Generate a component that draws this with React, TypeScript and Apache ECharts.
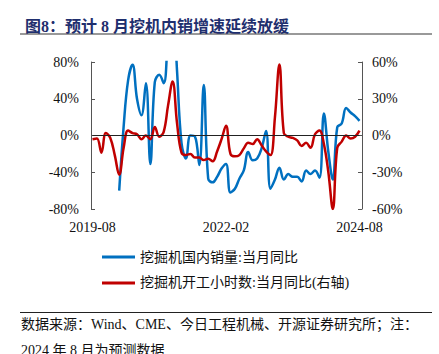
import React, { useEffect, useRef } from "react";
import * as echarts from "echarts";

const months: string[] = [];
for (let y = 2019; y <= 2024; y++) {
  for (let m = 1; m <= 12; m++) {
    if ((y === 2019 && m < 8) || (y === 2024 && m > 8)) continue;
    months.push(`${y}-${String(m).padStart(2, "0")}`);
  }
}

const seriesNames = ["挖掘机国内销量:当月同比", "挖掘机开工小时数:当月同比(右轴)"];

// 挖掘机国内销量:当月同比 (%), left axis
const domesticSalesYoY: (number | null)[] = [
  null, null, null, null, null, null,
  -60, 10, 60, 77, 40, 22, 57, -31, 58, 66, 57, 110, 150, 70,
  -8, -25, 0, -1, -32, 55, -47, -51, -45, -36, -31, -62, -58, -47,
  -38, -18, -27, -25, -14, 5, -58, -48, -35, -48, -42, -45, -45, -50,
  -38, -42, -38, -46, 24, -18, -48, 9, 13, 30, 25, 21, 16,
];

// 挖掘机开工小时数:当月同比 (%), right axis
const workingHoursYoY: number[] = [
  -3, -2.5, -14, 2, -2, -16, -32, -10, 4, 2, 1, -3, 0, -3, 7, -1, 3, 25, 44, 10,
  -14, -16, -15, -18, -18, -20, -19, -21, -13, -3, 8, -15, -17, -16, -10.5, -6,
  -7, -3, -8, -13, -16, 15, 58, 2, -1, -2, -4, -8.5, -6, -10, 1, 4, -7, -30, -60,
  -10, -5, 0, -2.5, -1, 4,
];

const leftTicks = { min: -80, max: 80, interval: 40 };
const rightTicks = { min: -60, max: 60, interval: 30 };

const titleText = "图8：预计 8 月挖机内销增速延续放缓";
const noteLine1 = "数据来源：Wind、CME、今日工程机械、开源证券研究所；注：";
const noteLine2 = "2024 年 8 月为预测数据";

const serif = "'Liberation Serif', 'Noto Sans CJK SC', serif";

export default function App() {
  const ref = useRef<HTMLDivElement>(null);
  useEffect(() => {
    if (!ref.current) return;
    const chart = echarts.init(ref.current, undefined, { renderer: "svg" });
    chart.setOption({
      animation: false,
      backgroundColor: "#fff",
      title: {
        text: titleText,
        left: 20,
        top: 13,
        textStyle: { fontSize: 16, fontWeight: "bold", color: "#1F2F6E", fontFamily: serif },
      },
      graphic: [
        { type: "line", shape: { x1: 20, y1: 34, x2: 432, y2: 34 }, style: { stroke: "#999", lineWidth: 2 } },
        { type: "line", shape: { x1: 20, y1: 312.5, x2: 432, y2: 312.5 }, style: { stroke: "#222", lineWidth: 1 } },
        {
          type: "text", left: 21, top: 317,
          style: { text: noteLine1, fontSize: 14, fill: "#111", fontFamily: serif },
        },
        {
          type: "text", left: 21, top: 343,
          style: { text: noteLine2, fontSize: 14, fill: "#111", fontFamily: serif },
        },
      ],
      legend: {
        orient: "vertical",
        left: 97,
        top: 245,
        itemWidth: 33,
        itemHeight: 3,
        itemGap: 12,
        icon: "rect",
        textStyle: { fontSize: 14, color: "#111", fontFamily: serif },
        data: seriesNames,
      },
      grid: { left: 92.5, right: 79.5, top: 62, bottom: 145, containLabel: false },
      xAxis: {
        type: "category",
        data: months,
        boundaryGap: false,
        axisLine: { show: false },
        axisTick: { show: false },
        splitLine: { show: false },
        axisLabel: {
          interval: (idx: number) => idx % 30 === 0,
          margin: 11,
          fontSize: 14,
          color: "#111",
          fontFamily: serif,
        },
      },
      yAxis: [
        {
          type: "value",
          ...leftTicks,
          offset: 1.5,
          axisLine: { show: true, lineStyle: { color: "#555", width: 1 } },
          axisTick: { show: true, inside: true, length: 4, lineStyle: { color: "#555" } },
          splitLine: { show: false },
          axisLabel: { formatter: "{value}%", fontSize: 14, color: "#111", fontFamily: serif, margin: 12 },
        },
        {
          type: "value",
          ...rightTicks,
          offset: 2.5,
          position: "right",
          axisLine: { show: true, lineStyle: { color: "#555", width: 1 } },
          axisTick: { show: true, inside: true, length: 4, lineStyle: { color: "#555" } },
          splitLine: { show: false },
          axisLabel: { formatter: "{value}%", fontSize: 14, color: "#111", fontFamily: serif, margin: 10 },
        },
      ],
      series: [
        {
          name: seriesNames[0],
          type: "line",
          yAxisIndex: 0,
          data: domesticSalesYoY,
          smooth: 0.4,
          showSymbol: false,
          clip: true,
          lineStyle: { color: "#0070C0", width: 2.5 },
          itemStyle: { color: "#0070C0" },
          markLine: {
            silent: true,
            symbol: ["none", "none"],
            label: { show: false },
            lineStyle: { color: "#222", width: 1, type: "solid" },
            data: [{ yAxis: 0 }],
          },
        },
        {
          name: seriesNames[1],
          type: "line",
          yAxisIndex: 1,
          data: workingHoursYoY,
          smooth: 0.4,
          showSymbol: false,
          clip: true,
          lineStyle: { color: "#C00000", width: 2.5 },
          itemStyle: { color: "#C00000" },
        },
      ],
    });
    return () => chart.dispose();
  }, []);
  return (
    <div
      ref={ref}
      style={{ position: "absolute", left: 0, top: 0, width: 439, height: 354 }}
    />
  );
}
